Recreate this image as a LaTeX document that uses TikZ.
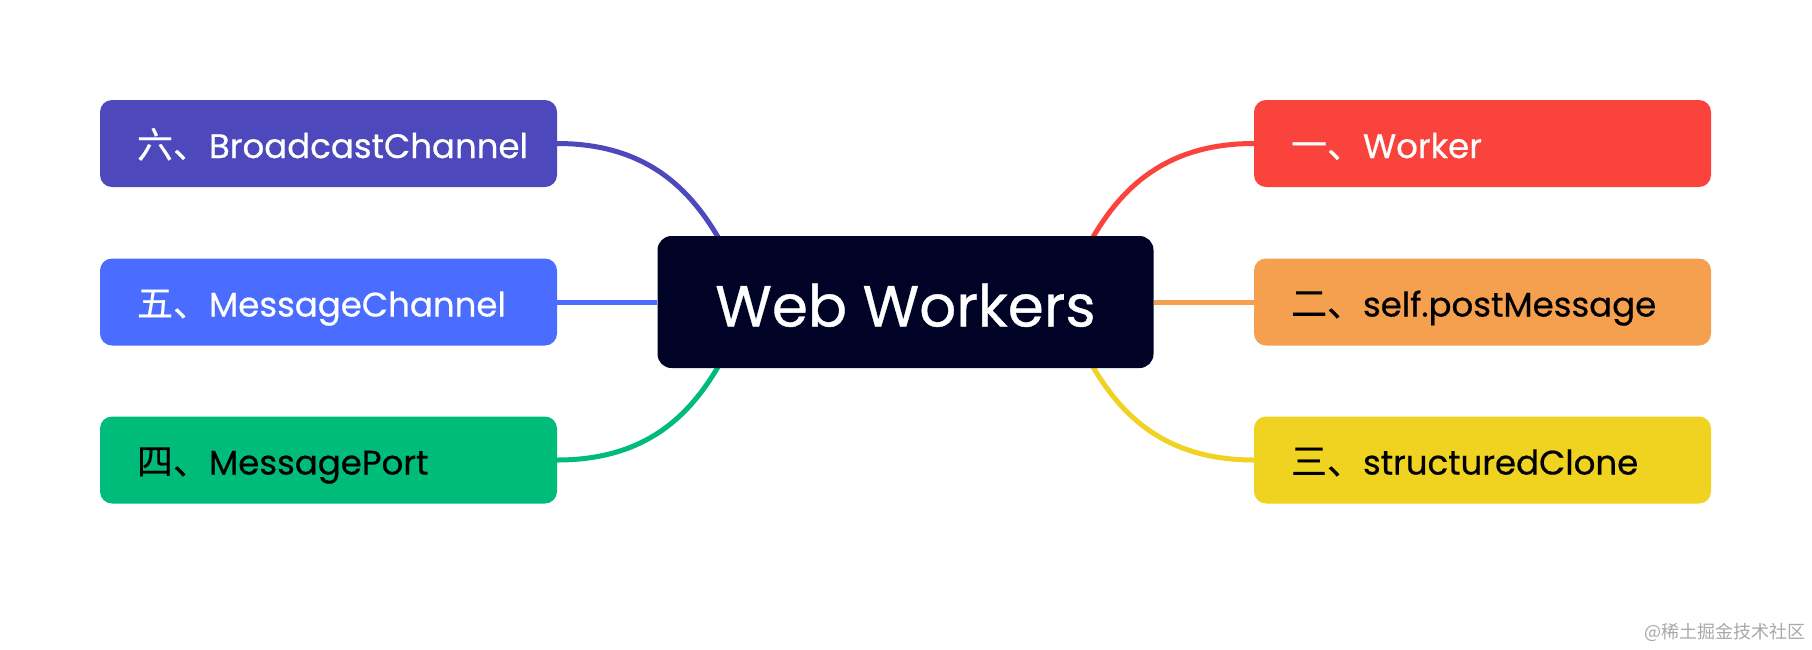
\documentclass[tikz,border=0pt]{standalone}
\usepackage{fontspec}
\setmainfont{Poppins}[FakeBold=0.6]
\newfontfamily\cjk{Noto Sans CJK SC}[FakeBold=0.3]
\newfontfamily\wmfont{Noto Sans CJK SC}
\definecolor{cpurple}{HTML}{4E48BD}
\definecolor{cblue}{HTML}{4A6CFF}
\definecolor{cgreen}{HTML}{00BC7A}
\definecolor{cred}{HTML}{FA433D}
\definecolor{corange}{HTML}{F5A04E}
\definecolor{cyellow}{HTML}{F0D320}
\definecolor{cdark}{HTML}{000326}
\definecolor{wmgray}{HTML}{A8A8A8}
\newcommand{\cj}[1]{{\cjk\fontsize{36}{38}\selectfont #1}}
\tikzset{
  leaf/.style={rectangle, rounded corners=12pt, minimum width=457pt, minimum height=87pt,
    inner xsep=37pt, text width=383pt, align=left, text height=29pt, text depth=0pt,
    font=\fontsize{34}{37}\selectfont},
  root/.style={rectangle, rounded corners=14pt, fill=cdark, text=white, minimum width=496pt,
    minimum height=132pt, text height=49pt, text depth=0pt, font=\fontsize{58}{62}\selectfont},
  link/.style={line width=5pt}
}
\begin{document}
\begin{tikzpicture}[x=1pt,y=-1pt]
\useasboundingbox (0,0) rectangle (1812,649);
\coordinate (cTL) at (718,237);
\coordinate (cBL) at (718,367);
\coordinate (cTR) at (1093,237);
\coordinate (cBR) at (1093,367);
\node[leaf, fill=cpurple, text=white] (b6) at (328.5,143.5) {\cj{六、}BroadcastChannel};
\node[leaf, fill=cblue, text=white] (b5) at (328.5,302) {\cj{五、}MessageChannel};
\node[leaf, fill=cgreen, text=black] (b4) at (328.5,460) {\cj{四、}MessagePort};
\node[leaf, fill=cred, text=white] (b1) at (1482.5,143.5) {\cj{一、}Worker};
\node[leaf, fill=corange, text=black] (b2) at (1482.5,302) {\cj{二、}self.postMessage};
\node[leaf, fill=cyellow, text=black] (b3) at (1482.5,460) {\cj{三、}structuredClone};
\draw[link, cpurple] (b6.east) .. controls +(90,0) and +(-28,-47) .. (cTL);
\draw[link, cgreen] (b4.east) .. controls +(90,0) and +(-28,47) .. (cBL);
\draw[link, cred] (b1.west) .. controls +(-90,0) and +(28,-47) .. (cTR);
\draw[link, cyellow] (b3.west) .. controls +(-90,0) and +(28,47) .. (cBR);
\node[root] (c) at (905.5,302) {Web Workers};
\draw[link, cblue] (b5.east) -- (c.west);
\draw[link, corange] (b2.west) -- (c.east);
\node[anchor=base east, text=wmgray, inner sep=0pt, font=\wmfont\fontsize{18}{20}\selectfont] (wm) at (1806,638) {@稀土掘金技术社区};
\end{tikzpicture}
\end{document}
